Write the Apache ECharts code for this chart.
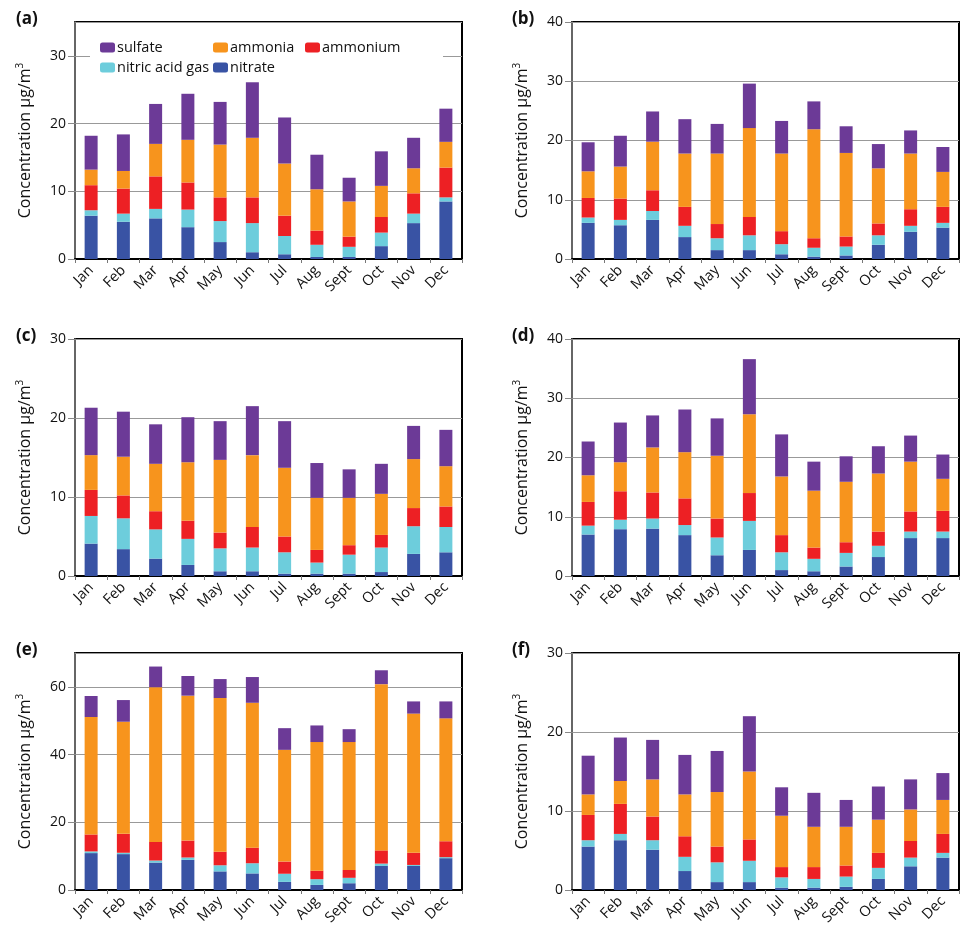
<!DOCTYPE html>
<html>
<head>
<meta charset="utf-8">
<title>Monthly concentrations</title>
<script src="https://cdn.jsdelivr.net/npm/echarts@6/dist/echarts.min.js"></script>
<style>
  html, body { margin: 0; padding: 0; background: #fff; }
  #chart { width: 976px; height: 938px; }
</style>
</head>
<body>
<div id="chart"></div>
<script>
var months = ['Jan', 'Feb', 'Mar', 'Apr', 'May', 'Jun', 'Jul', 'Aug', 'Sept', 'Oct', 'Nov', 'Dec'];
var panelLabels = ['(a)', '(b)', '(c)', '(d)', '(e)', '(f)'];
var axisMax = [35, 40, 30, 40, 70, 30];
var axisStep = [10, 10, 10, 10, 20, 10];

// per panel values, bottom of the stack first
var nitrate = [
  [6.4, 5.5, 6.0, 4.7, 2.5, 1.0, 0.7, 0.3, 0.3, 1.9, 5.3, 8.5],
  [6.1, 5.7, 6.6, 3.7, 1.5, 1.5, 0.8, 0.4, 0.6, 2.4, 4.6, 5.3],
  [4.1, 3.4, 2.2, 1.4, 0.6, 0.6, 0.3, 0.3, 0.3, 0.5, 2.8, 3.0],
  [7.0, 7.9, 8.0, 6.9, 3.5, 4.4, 1.0, 0.8, 1.6, 3.2, 6.4, 6.4],
  [10.9, 10.6, 8.1, 8.9, 5.5, 4.9, 2.4, 1.5, 2.0, 7.1, 7.1, 9.4],
  [5.5, 6.3, 5.1, 2.4, 1.0, 1.0, 0.3, 0.3, 0.4, 1.4, 3.0, 4.1]
];
var nitricAcidGas = [
  [0.8, 1.2, 1.4, 2.6, 3.1, 4.3, 2.7, 1.8, 1.5, 2.0, 1.4, 0.6],
  [0.9, 0.9, 1.5, 1.9, 2.0, 2.5, 1.7, 1.5, 1.5, 1.6, 1.0, 0.8],
  [3.5, 3.9, 3.7, 3.3, 2.9, 3.0, 2.7, 1.4, 2.4, 3.1, 3.5, 3.2],
  [1.5, 1.6, 1.7, 1.7, 3.0, 4.9, 3.0, 2.1, 2.3, 1.9, 1.1, 1.1],
  [0.5, 0.4, 0.6, 0.7, 1.8, 3.0, 2.4, 1.7, 1.6, 0.7, 0.3, 0.3],
  [0.8, 0.8, 1.2, 1.8, 2.5, 2.7, 1.3, 1.1, 1.3, 1.4, 1.1, 0.6]
];
var ammonium = [
  [3.7, 3.7, 4.8, 4.0, 3.5, 3.8, 3.0, 2.1, 1.5, 2.3, 3.0, 4.4],
  [3.3, 3.6, 3.5, 3.2, 2.4, 3.1, 2.2, 1.6, 1.7, 2.0, 2.8, 2.7],
  [3.3, 2.9, 2.3, 2.3, 2.0, 2.6, 2.0, 1.6, 1.2, 1.6, 2.3, 2.6],
  [4.0, 4.8, 4.4, 4.5, 3.2, 4.7, 2.9, 1.9, 1.8, 2.4, 3.4, 3.5],
  [5.0, 5.6, 5.5, 5.0, 4.0, 4.6, 3.6, 2.5, 2.3, 3.9, 3.6, 4.7],
  [3.2, 3.8, 3.0, 2.6, 2.0, 2.7, 1.3, 1.5, 1.4, 1.9, 2.1, 2.4]
];
var ammonia = [
  [2.3, 2.6, 4.8, 6.3, 7.8, 8.8, 7.7, 6.1, 5.2, 4.6, 3.7, 3.8],
  [4.5, 5.4, 8.2, 9.0, 11.9, 15.0, 13.1, 18.4, 14.1, 9.3, 9.4, 5.9],
  [4.4, 4.9, 6.0, 7.4, 9.2, 9.1, 8.7, 6.6, 6.0, 5.2, 6.2, 5.1],
  [4.5, 4.9, 7.6, 7.8, 10.6, 13.3, 9.9, 9.6, 10.2, 9.8, 8.4, 5.4],
  [34.7, 33.1, 45.7, 42.8, 45.4, 42.8, 33.0, 38.0, 37.8, 49.1, 41.1, 36.3],
  [2.6, 2.9, 4.7, 5.3, 6.9, 8.6, 6.5, 5.1, 4.9, 4.2, 4.0, 4.3]
];
var sulfate = [
  [5.0, 5.4, 5.9, 6.8, 6.3, 8.2, 6.8, 5.1, 3.5, 5.1, 4.5, 4.9],
  [4.9, 5.2, 5.1, 5.8, 5.0, 7.5, 5.5, 4.7, 4.5, 4.1, 3.9, 4.2],
  [6.0, 5.7, 5.0, 5.7, 4.9, 6.2, 5.9, 4.4, 3.6, 3.8, 4.2, 4.6],
  [5.7, 6.7, 5.4, 7.2, 6.3, 9.3, 7.1, 4.9, 4.3, 4.6, 4.4, 4.1],
  [6.2, 6.4, 6.1, 5.8, 5.6, 7.6, 6.4, 4.9, 3.8, 4.1, 3.6, 5.0],
  [4.9, 5.5, 5.0, 5.0, 5.2, 7.0, 3.6, 4.3, 3.4, 4.2, 3.8, 3.4]
];

var layers = [
  { name: 'nitrate', color: '#3953a4', values: nitrate },
  { name: 'nitric acid gas', color: '#6dcddc', values: nitricAcidGas },
  { name: 'ammonium', color: '#ed2024', values: ammonium },
  { name: 'ammonia', color: '#f7941d', values: ammonia },
  { name: 'sulfate', color: '#6c3a97', values: sulfate }
];

var font = 'Open Sans';
var colLeft = [75, 572];
var rowTop = [22, 339, 653];

var grids = [], xAxes = [], yAxes = [], series = [], titles = [];
for (var i = 0; i < 6; i++) {
  var col = i % 2, row = Math.floor(i / 2);
  grids.push({
    left: colLeft[col], top: rowTop[row], width: 387, height: 237,
    show: true, borderColor: '#000', borderWidth: 2, backgroundColor: 'transparent'
  });
  xAxes.push({
    type: 'category', gridIndex: i, data: months,
    axisLine: { lineStyle: { color: '#000', width: 2 } },
    axisTick: { show: true, length: 4, lineStyle: { color: '#777' } },
    axisLabel: { rotate: 45, fontSize: 14.5, color: '#111', fontFamily: font, margin: 9 }
  });
  yAxes.push({
    type: 'value', gridIndex: i, min: 0, max: axisMax[i], interval: axisStep[i],
    name: '{n|Concentration μg/m}{s|3}',
    nameLocation: 'middle', nameGap: 40, nameRotate: 90,
    nameTextStyle: {
      rich: {
        n: { fontSize: 16, fontFamily: font, color: '#111', lineHeight: 20 },
        s: { fontSize: 10, fontFamily: font, color: '#111', verticalAlign: 'top', lineHeight: 20 }
      }
    },
    axisLine: { show: true, lineStyle: { color: '#888', width: 1.5 } },
    axisTick: { show: true, inside: false, length: 7, lineStyle: { color: '#888' } },
    axisLabel: {
      fontSize: 14, color: '#111', fontFamily: font, margin: 9,
      showMaxLabel: axisMax[i] % axisStep[i] === 0
    },
    splitLine: { show: true, lineStyle: { color: '#999', width: 1 } }
  });
  titles.push({
    text: panelLabels[i],
    left: col === 0 ? 16 : 512,
    top: rowTop[row] - 11,
    padding: 0,
    textStyle: { fontSize: 17, fontWeight: 'bold', fontFamily: font, color: '#111' }
  });
  layers.forEach(function (layer) {
    series.push({
      name: layer.name, type: 'bar', stack: 'p' + i,
      xAxisIndex: i, yAxisIndex: i, barWidth: 13,
      itemStyle: { color: layer.color },
      data: layer.values[i]
    });
  });
}

var legendBase = {
  orient: 'vertical', itemWidth: 15, itemHeight: 10, itemGap: 5, padding: 0,
  textStyle: { fontSize: 14.5, fontFamily: font, color: '#111', padding: [0, 0, 0, -3] },
  selectedMode: false
};

var chart = echarts.init(document.getElementById('chart'));
chart.setOption({
  animation: false,
  title: titles,
  grid: grids,
  xAxis: xAxes,
  yAxis: yAxes,
  legend: [
    echarts.util.merge({ left: 100, top: 40, data: ['sulfate', 'nitric acid gas'] }, legendBase, true),
    echarts.util.merge({ left: 213, top: 40, data: ['ammonia', 'nitrate'] }, legendBase, true),
    echarts.util.merge({ left: 305, top: 40, data: ['ammonium'] }, legendBase, true)
  ],
  // white box behind the legend in panel (a)
  graphic: [{
    type: 'rect', z: 1,
    shape: { x: 90, y: 33, width: 353, height: 38 },
    style: { fill: '#fff' }
  }],
  series: series
});
</script>
</body>
</html>
